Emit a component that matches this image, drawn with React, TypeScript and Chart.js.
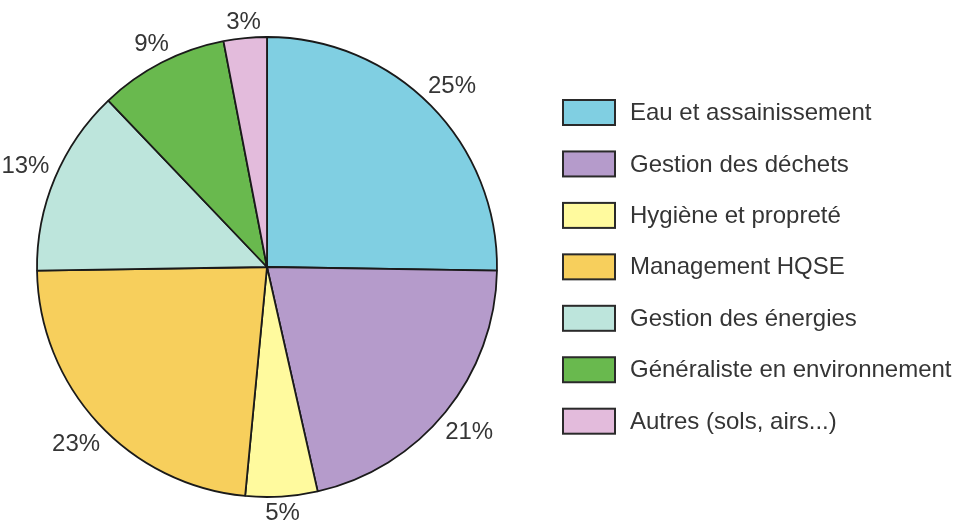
import React, { useEffect, useRef } from "react";
import { Chart, registerables } from "chart.js";

Chart.register(...registerables);

const categories = [
  "Eau et assainissement",
  "Gestion des déchets",
  "Hygiène et propreté",
  "Management HQSE",
  "Gestion des énergies",
  "Généraliste en environnement",
  "Autres (sols, airs...)",
];
const shares = [25, 21, 5, 23, 13, 9, 3];
const sliceColors = ["#80cfe2", "#b59bcb", "#fffa9e", "#f7cf5c", "#bde5dc", "#69b94e", "#e3bbdc"];

const FONT = '24px "Liberation Sans", Arial, Helvetica, sans-serif';
const TEXT_COLOR = "#353535";
const LEGEND_X = 563;
const LEGEND_TOP = 100;
const LEGEND_STEP = 51.45;
const BOX_W = 52;
const BOX_H = 25;
const TEXT_X = 630;
const LABEL_GAP = 6.5;
const LABEL_CAP_H = 17;

const sideLegend = {
  id: "sideLegend",
  afterDraw(chart: any) {
    const ctx = chart.ctx as CanvasRenderingContext2D;
    const ds = chart.data.datasets[0];
    ctx.save();
    ctx.font = FONT;
    ctx.textBaseline = "middle";
    ctx.textAlign = "left";
    (chart.data.labels as string[]).forEach((label, i) => {
      const top = LEGEND_TOP + i * LEGEND_STEP;
      ctx.fillStyle = ds.backgroundColor[i];
      ctx.fillRect(LEGEND_X, top, BOX_W, BOX_H);
      ctx.lineWidth = 2;
      ctx.strokeStyle = "#2a2a2a";
      ctx.strokeRect(LEGEND_X, top, BOX_W, BOX_H);
      ctx.fillStyle = TEXT_COLOR;
      ctx.fillText(label, TEXT_X, top + BOX_H / 2 + 1);
    });
    ctx.restore();
  },
};

const outsideLabels = {
  id: "outsideLabels",
  afterDatasetsDraw(chart: any) {
    const ctx = chart.ctx as CanvasRenderingContext2D;
    const meta = chart.getDatasetMeta(0);
    const values = chart.data.datasets[0].data as number[];
    ctx.save();
    ctx.font = FONT;
    ctx.fillStyle = TEXT_COLOR;
    ctx.textAlign = "center";
    ctx.textBaseline = "middle";
    meta.data.forEach((arc: any, i: number) => {
      const { x, y, startAngle, endAngle, outerRadius } = arc.getProps(
        ["x", "y", "startAngle", "endAngle", "outerRadius"],
        true
      );
      const mid = (startAngle + endAngle) / 2;
      const text = values[i] + "%";
      const w = ctx.measureText(text).width;
      const c = Math.cos(mid);
      const s = Math.sin(mid);
      const r = outerRadius + LABEL_GAP + Math.abs(c) * (w / 2) + Math.abs(s) * (LABEL_CAP_H / 2);
      ctx.fillText(text, x + c * r, y + s * r + 1);
    });
    ctx.restore();
  },
};

export default function App() {
  const canvasRef = useRef<HTMLCanvasElement | null>(null);

  useEffect(() => {
    document.body.style.margin = "0";
    const canvas = canvasRef.current;
    if (!canvas) return;
    const chart = new Chart(canvas, {
      type: "pie",
      data: {
        labels: categories,
        datasets: [
          {
            data: shares,
            backgroundColor: sliceColors,
            borderColor: "#1a1a1a",
            borderWidth: 1.8,
            radius: 230,
          } as any,
        ],
      },
      options: {
        responsive: true,
        maintainAspectRatio: false,
        animation: false,
        layout: { padding: { left: 0, right: 420, top: 4, bottom: 0 } },
        plugins: {
          legend: { display: false },
          tooltip: { enabled: false },
          title: { display: false },
        },
      },
      plugins: [outsideLabels, sideLegend],
    });
    return () => chart.destroy();
  }, []);

  return (
    <div style={{ width: 954, height: 530, position: "relative", background: "#ffffff" }}>
      <canvas ref={canvasRef} />
    </div>
  );
}
